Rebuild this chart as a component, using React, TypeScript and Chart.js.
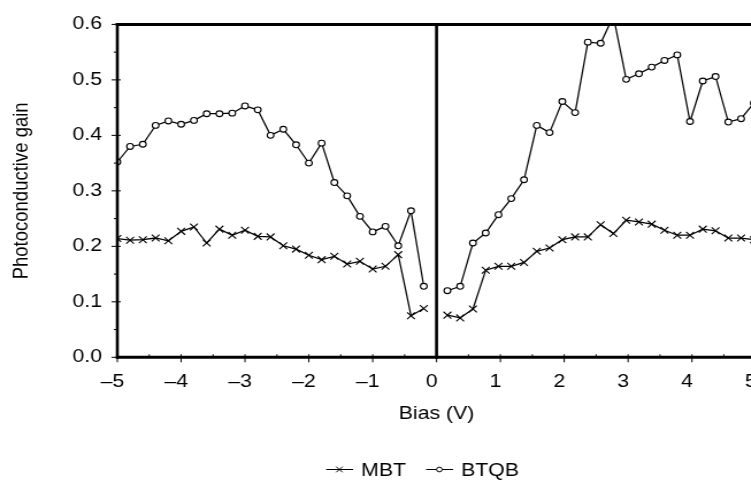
import React, { useEffect, useRef } from 'react';
import { Chart, registerables } from 'chart.js';

Chart.register(...registerables);

// ---- data ----
const biasNeg = [-5.0, -4.8, -4.6, -4.4, -4.2, -4.0, -3.8, -3.6, -3.4, -3.2, -3.0, -2.8, -2.6, -2.4, -2.2, -2.0, -1.8, -1.6, -1.4, -1.2, -1.0, -0.8, -0.6, -0.4, -0.2];
const biasPos = [0.17, 0.37, 0.57, 0.77, 0.97, 1.17, 1.37, 1.57, 1.77, 1.97, 2.17, 2.37, 2.57, 2.77, 2.97, 3.17, 3.37, 3.57, 3.77, 3.97, 4.17, 4.37, 4.57, 4.77, 4.97];

const mbtNeg = [0.214, 0.211, 0.212, 0.215, 0.210, 0.227, 0.235, 0.206, 0.231, 0.220, 0.229, 0.218, 0.217, 0.201, 0.195, 0.184, 0.176, 0.182, 0.168, 0.173, 0.159, 0.164, 0.185, 0.075, 0.088];
const btqbNeg = [0.352, 0.380, 0.384, 0.418, 0.426, 0.420, 0.427, 0.439, 0.439, 0.440, 0.453, 0.446, 0.400, 0.411, 0.383, 0.350, 0.386, 0.315, 0.291, 0.254, 0.226, 0.236, 0.201, 0.264, 0.128];
const mbtPos = [0.076, 0.071, 0.087, 0.157, 0.164, 0.164, 0.171, 0.191, 0.197, 0.212, 0.217, 0.217, 0.239, 0.223, 0.247, 0.244, 0.240, 0.229, 0.220, 0.220, 0.231, 0.228, 0.215, 0.215, 0.212];
const btqbPos = [0.120, 0.128, 0.206, 0.224, 0.257, 0.286, 0.320, 0.418, 0.405, 0.461, 0.441, 0.568, 0.566, 0.615, 0.501, 0.511, 0.523, 0.535, 0.545, 0.425, 0.498, 0.506, 0.424, 0.430, 0.458];

const xTicks = [-5, -4, -3, -2, -1, 0, 1, 2, 3, 4, 5];
const yTicks = [0, 0.1, 0.2, 0.3, 0.4, 0.5, 0.6];
const xMinorTicks = [-4.5, -3.5, -2.5, -1.5, -0.5, 0.5, 1.5, 2.5, 3.5, 4.5];
const yMinorTicks = [0.05, 0.15, 0.25, 0.35, 0.45, 0.55];
const seriesNames = ['MBT', 'BTQB'];
const xTitle = 'Bias (V)';
const yTitle = 'Photoconductive gain';

// ---- style ----
const FONT = '"Liberation Sans", Arial, Helvetica, sans-serif';
const FSIZE = 18.5;
const STRETCH = 1.15;
const CW = 700;
const CH = 481;

function pts(xs: number[], ys: number[]) {
  return xs.map((x, i) => ({ x, y: ys[i] }));
}

function drawMarker(ctx: CanvasRenderingContext2D, style: string, cx: number, cy: number, r: number) {
  ctx.beginPath();
  if (style === 'circle') {
    ctx.arc(cx, cy, r, 0, Math.PI * 2);
    ctx.fillStyle = '#fff';
    ctx.fill();
    ctx.stroke();
  } else {
    ctx.moveTo(cx - r, cy - r);
    ctx.lineTo(cx + r, cy + r);
    ctx.moveTo(cx - r, cy + r);
    ctx.lineTo(cx + r, cy - r);
    ctx.stroke();
  }
}

const framePlugin = {
  id: 'framePlugin',
  afterDatasetsDraw(chart: any) {
    const { ctx, chartArea, scales } = chart;
    const { left, right, top, bottom } = chartArea;
    const xs = scales.x;
    const ys = scales.y;
    ctx.save();
    ctx.strokeStyle = '#000';
    ctx.lineWidth = 1;
    ctx.beginPath();
    yTicks.forEach((v) => {
      const py = ys.getPixelForValue(v);
      ctx.moveTo(left - 5, py);
      ctx.lineTo(left + 3, py);
    });
    yMinorTicks.forEach((v) => {
      const py = ys.getPixelForValue(v);
      ctx.moveTo(left - 3, py);
      ctx.lineTo(left, py);
    });
    xTicks.forEach((v) => {
      const px = xs.getPixelForValue(v);
      ctx.moveTo(px, bottom - 3);
      ctx.lineTo(px, bottom + 5);
    });
    xMinorTicks.forEach((v) => {
      const px = xs.getPixelForValue(v);
      ctx.moveTo(px, bottom - 3);
      ctx.lineTo(px, bottom);
    });
    ctx.stroke();

    // frame
    ctx.lineWidth = 3;
    ctx.beginPath();
    ctx.moveTo(left - 1.3, top);
    ctx.lineTo(right + 1.3, top);
    ctx.moveTo(left - 1.3, bottom);
    ctx.lineTo(right + 1.3, bottom);
    ctx.stroke();
    ctx.lineWidth = 2.6;
    ctx.beginPath();
    const x0 = xs.getPixelForValue(0);
    [left, x0, right].forEach((px) => {
      ctx.moveTo(px, top - 1.5);
      ctx.lineTo(px, bottom + 1.5);
    });
    ctx.stroke();
    ctx.restore();
  },
  afterDraw(chart: any) {
    const { ctx, chartArea } = chart;
    const styles = ['crossRot', 'circle'];
    const cy = 469.5;
    let x = (chartArea.left + chartArea.right) / 2 - 96;
    ctx.save();
    ctx.font = `${FSIZE}px ${FONT}`;
    ctx.textBaseline = 'middle';
    ctx.textAlign = 'left';
    ctx.strokeStyle = '#000';
    ctx.fillStyle = '#000';
    ctx.lineWidth = 1;
    seriesNames.forEach((name, i) => {
      ctx.beginPath();
      ctx.moveTo(x, cy);
      ctx.lineTo(x + 23.5, cy);
      ctx.stroke();
      drawMarker(ctx, styles[i], x + 11.5, cy, styles[i] === 'circle' ? 2.4 : 2.8);
      ctx.fillStyle = '#000';
      ctx.fillText(name, x + 30.4, cy + 1);
      const w = ctx.measureText(name).width;
      x = x + 30.4 + w + 17.5;
    });
    ctx.restore();
  },
};

export default function App() {
  const ref = useRef<HTMLCanvasElement>(null);

  useEffect(() => {
    if (!ref.current) return;
    const common = {
      borderColor: '#000',
      borderWidth: 1.25,
      pointBorderColor: '#000',
      pointBackgroundColor: '#fff',
      pointBorderWidth: 1.1,
      tension: 0,
      showLine: true,
    };
    const chart = new Chart(ref.current, {
      type: 'scatter',
      data: {
        datasets: [
          { ...common, label: seriesNames[0], data: pts(biasNeg, mbtNeg), pointStyle: 'crossRot', pointRadius: 4.8 },
          { ...common, label: seriesNames[0], data: pts(biasPos, mbtPos), pointStyle: 'crossRot', pointRadius: 4.8 },
          { ...common, label: seriesNames[1], data: pts(biasNeg, btqbNeg), pointStyle: 'circle', pointRadius: 2.9 },
          { ...common, label: seriesNames[1], data: pts(biasPos, btqbPos), pointStyle: 'circle', pointRadius: 2.9 },
        ],
      },
      options: {
        animation: false,
        responsive: false,
        maintainAspectRatio: false,
        devicePixelRatio: 1,
        layout: { padding: { top: 19.5, right: 42.8, bottom: 51, left: 0 } },
        plugins: {
          legend: { display: false },
          tooltip: { enabled: false },
        },
        scales: {
          x: {
            type: 'linear',
            min: -5,
            max: 5,
            afterBuildTicks: (s: any) => {
              s.ticks = xTicks.map((v) => ({ value: v }));
            },
            afterFit: (s: any) => {
              s.height = 72.7;
            },
            ticks: {
              autoSkip: false,
              maxRotation: 0,
              padding: 14,
              labelOffset: -4.3,
              color: '#000',
              font: { family: FONT, size: FSIZE },
              callback: (v: any) => (v < 0 ? '\u2013' + Math.abs(v) : String(v)),
            },
            grid: { display: false, drawTicks: false },
            border: { display: false },
            title: {
              display: true,
              text: xTitle,
              color: '#000',
              font: { family: FONT, size: FSIZE },
              padding: { top: 0, bottom: 5.0 },
            },
          },
          y: {
            type: 'linear',
            min: 0,
            max: 0.6,
            afterBuildTicks: (s: any) => {
              s.ticks = yTicks.map((v) => ({ value: v }));
            },
            afterFit: (s: any) => {
              s.width = 102;
            },
            ticks: {
              autoSkip: false,
              padding: 13.3,
              color: '#000',
              font: { family: FONT, size: FSIZE },
              callback: (v: any) => Number(v).toFixed(1),
            },
            grid: { display: false, drawTicks: false },
            border: { display: false },
            title: {
              display: true,
              text: yTitle,
              color: '#000',
              font: { family: FONT, size: FSIZE },
              padding: { top: 8, bottom: 0 },
            },
          },
        },
      },
      plugins: [framePlugin],
    } as any);
    return () => chart.destroy();
  }, []);

  return (
    <div style={{ position: 'fixed', left: 0, top: 0, width: 751, height: 481, overflow: 'hidden', background: '#fff' }}>
      <div
        style={{
          position: 'absolute',
          left: 0,
          top: 0,
          width: CW,
          height: CH,
          transform: `scaleX(${STRETCH})`,
          transformOrigin: '0 0',
        }}
      >
        <canvas ref={ref} width={CW} height={CH} style={{ display: 'block', width: CW, height: CH }} />
      </div>
    </div>
  );
}
